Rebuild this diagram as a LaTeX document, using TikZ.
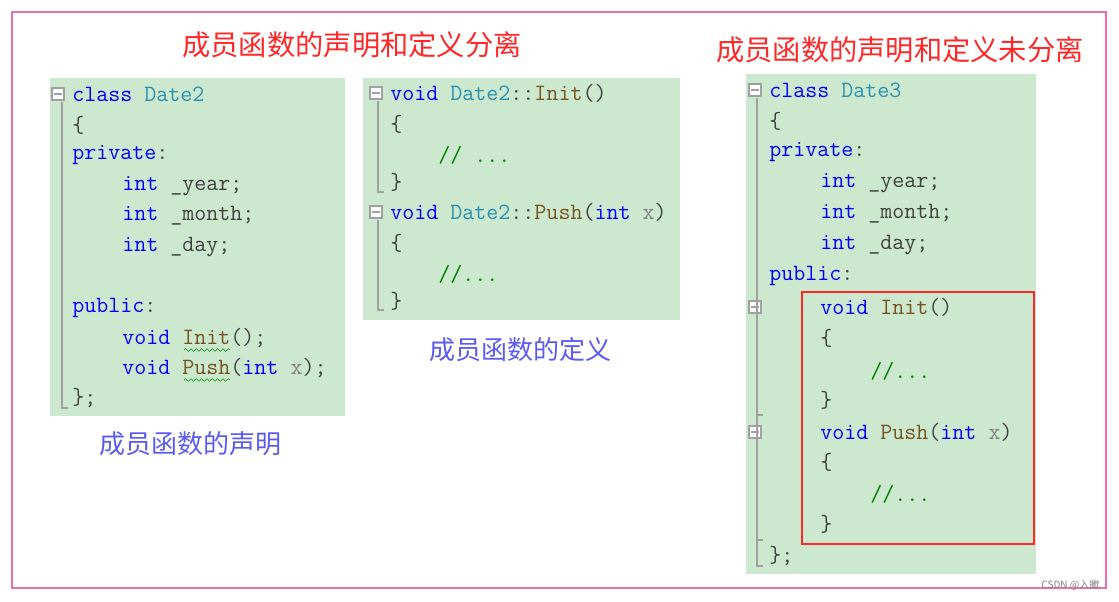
\documentclass[tikz,border=0pt]{standalone}
\usepackage{fontspec}
\newfontfamily\cjk{Noto Sans CJK SC}
\usetikzlibrary{decorations.pathmorphing}
\definecolor{bg}{RGB}{204,232,207}
\definecolor{kw}{RGB}{0,0,255}
\definecolor{ty}{RGB}{43,145,175}
\definecolor{fn}{RGB}{116,83,31}
\definecolor{cm}{RGB}{0,128,0}
\definecolor{pr}{RGB}{128,128,128}
\definecolor{pk}{RGB}{240,110,170}
\definecolor{rd}{RGB}{255,40,40}
\definecolor{lb}{RGB}{90,90,245}
\definecolor{gl}{RGB}{160,160,160}
\newcommand\K[1]{\textcolor{kw}{#1}}
\newcommand\T[1]{\textcolor{ty}{#1}}
\newcommand\F[1]{\textcolor{fn}{#1}}
\newcommand\C[1]{\textcolor{cm}{#1}}
\newcommand\Pa[1]{\textcolor{pr}{#1}}
\tikzset{
 code/.style={anchor=west,inner sep=0pt,font=\ttfamily\fontsize{17.5}{21}\selectfont,text=black!75},
 ttl/.style={font=\cjk\fontsize{21.2}{24}\selectfont,text=rd},
 lbl/.style={font=\cjk\fontsize{19.5}{22}\selectfont,text=lb},
 panel/.style={fill=bg,draw=none},
 fold/.style={draw=gl,fill=white,minimum size=9pt,inner sep=0pt,line width=0.9pt},
 guide/.style={draw=gl,line width=1.2pt},
 squig/.style={draw=cm!80!green,decorate,decoration={snake,amplitude=1pt,segment length=4pt}}
}
\newcommand\foldbox[2]{\node[fold] at (#1,#2) {}; \draw[gl,line width=1pt] (#1-4,#2) -- (#1+4,#2);}
\begin{document}
\begin{tikzpicture}[x=0.75pt,y=-0.75pt]
\useasboundingbox (0,0) rectangle (1119,601);
\draw[pk,line width=1.5pt] (12,12) rectangle (1106,588);
\node[ttl] (t1) at (352,45) {成员函数的声明和定义分离};
\node[ttl] (t2) at (900,50) {成员函数的声明和定义未分离};
% panel 1
\fill[bg] (50,78) rectangle (345,416);
\draw[guide] (62,102) -- (62,408) -- (68,408);
\foldbox{58}{94}
\node[code] (a1) at (72,94) {\K{class} \T{Date2}};
\node[code] (a2) at (72,125) {\{};
\node[code] (a3) at (72,155) {\K{private}:};
\node[code] (a4) at (122,186) {\K{int} \_year;};
\node[code] (a5) at (122,216) {\K{int} \_month;};
\node[code] (a6) at (122,247) {\K{int} \_day;};
\node[code] (a7) at (72,308) {\K{public}:};
\node[code] (a8) at (122,338) {\K{void} \F{Init}();};
\node[code] (a9) at (122,368) {\K{void} \F{Push}(\K{int} \Pa{x});};
\node[code] (a10) at (72,398) {\};};
\draw[squig] (184,350) -- (230,350);
\draw[squig] (184,380) -- (230,380);
\node[lbl] (l1) at (190,444) {成员函数的声明};
% panel 2
\fill[bg] (363,78) rectangle (680,320);
\foldbox{376}{93}
\foldbox{376}{212}
\draw[guide] (378,101) -- (378,192) -- (384,192);
\draw[guide] (378,220) -- (378,310) -- (384,310);
\node[code] (b1) at (390,93) {\K{void} \T{Date2}::\F{Init}()};
\node[code] (b2) at (390,124) {\{};
\node[code] (b3) at (438,155) {\C{// ...}};
\node[code] (b4) at (390,182) {\}};
\node[code] (b5) at (390,212) {\K{void} \T{Date2}::\F{Push}(\K{int} \Pa{x})};
\node[code] (b6) at (390,243) {\{};
\node[code] (b7) at (438,274) {\C{//...}};
\node[code] (b8) at (390,301) {\}};
\node[lbl] (l2) at (520,350) {成员函数的定义};
% panel 3
\fill[bg] (746,74) rectangle (1036,574);
\foldbox{755}{90}
\foldbox{755}{307}
\foldbox{755}{432}
\draw[guide] (757,98) -- (757,566) -- (763,566);
\draw[guide] (757,315) -- (757,415) -- (763,415);
\draw[guide] (757,440) -- (757,540) -- (763,540);
\node[code] (c1) at (769,90) {\K{class} \T{Date3}};
\node[code] (c2) at (769,121) {\{};
\node[code] (c3) at (769,152) {\K{private}:};
\node[code] (c4) at (820,183) {\K{int} \_year;};
\node[code] (c5) at (820,214) {\K{int} \_month;};
\node[code] (c6) at (820,245) {\K{int} \_day;};
\node[code] (c7) at (769,276) {\K{public}:};
\node[code] (c8) at (820,307) {\K{void} \F{Init}()};
\node[code] (c9) at (820,338) {\{};
\node[code] (c10) at (870,371) {\C{//...}};
\node[code] (c11) at (820,400) {\}};
\node[code] (c12) at (820,432) {\K{void} \F{Push}(\K{int} \Pa{x})};
\node[code] (c13) at (820,462) {\{};
\node[code] (c14) at (870,494) {\C{//...}};
\node[code] (c15) at (820,524) {\}};
\node[code] (c16) at (769,556) {\};};
\draw[rd,line width=1.5pt] (802,292) rectangle (1034,544);
\node[font=\cjk\fontsize{7.5}{9}\selectfont,text=gray,anchor=east] (wm) at (1104,585) {CSDN @入擨};
\end{tikzpicture}
\end{document}
